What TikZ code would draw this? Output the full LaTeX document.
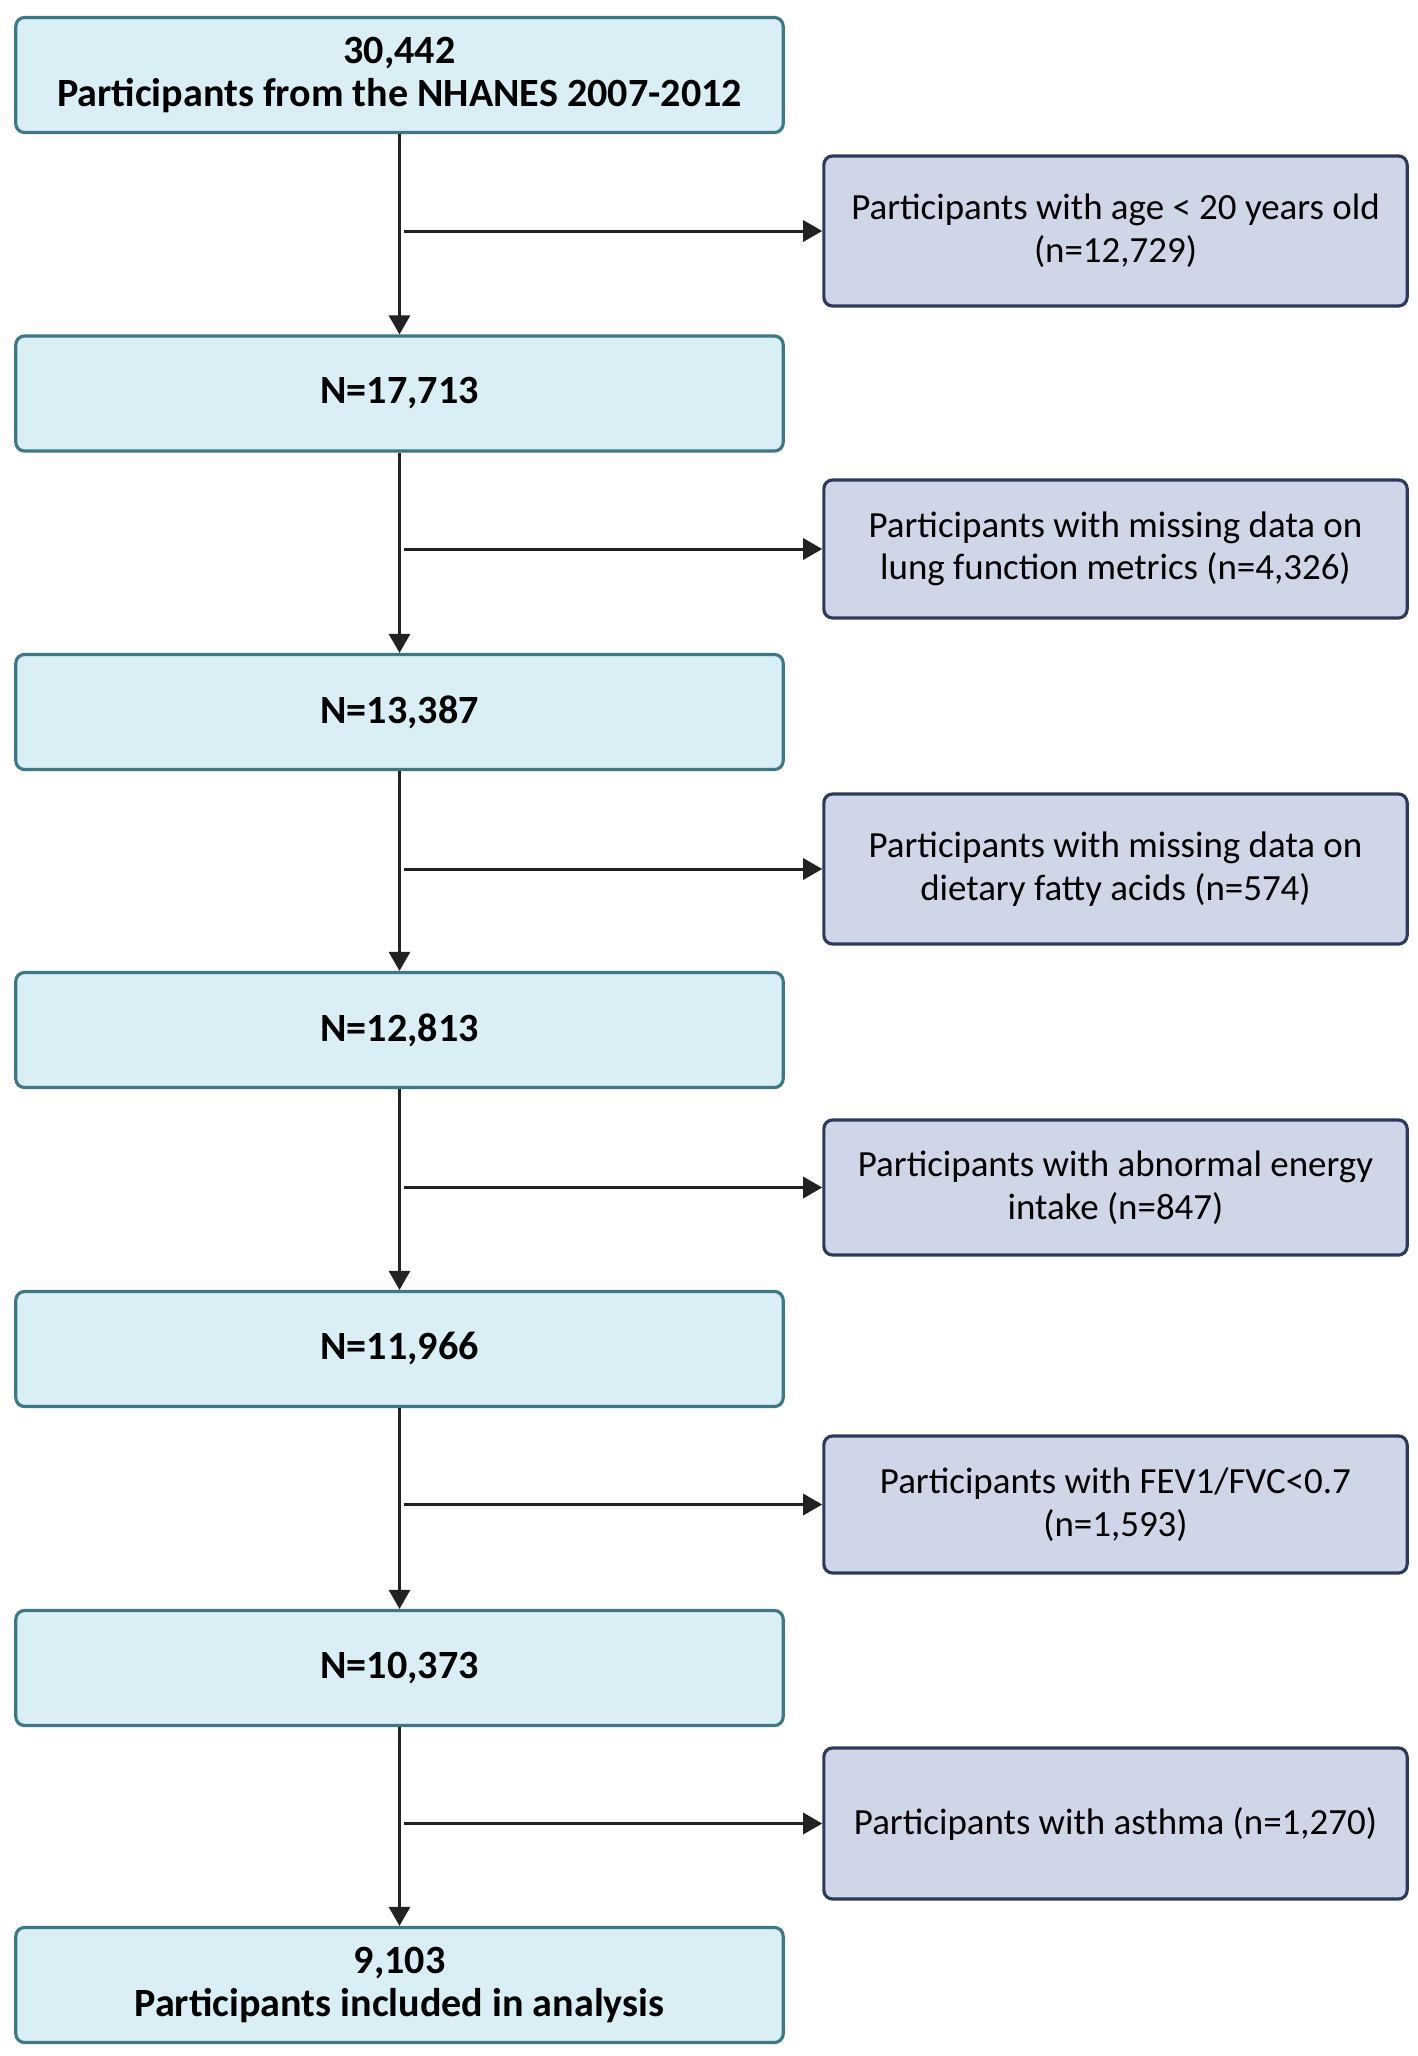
\documentclass[tikz,border=0pt]{standalone}
\usepackage{fontspec}
\setmainfont{Carlito}
\usetikzlibrary{arrows.meta}
\tikzset{>={Triangle[length=1.9mm,width=2.1mm]}}
\definecolor{stepfill}{HTML}{D9EEF5}
\definecolor{stepline}{HTML}{3E7786}
\definecolor{exfill}{HTML}{CFD6E8}
\definecolor{exline}{HTML}{2E3A5C}
\definecolor{arrcol}{HTML}{222222}
\tikzset{
  mainbox/.style={draw=stepline,fill=stepfill,line width=0.9pt,rounded corners=2.5pt,
    minimum width=7.67cm,minimum height=1.15cm,align=center,font=\fontsize{11.4}{12.1}\selectfont\bfseries},
  exbox/.style={draw=exline,fill=exfill,line width=0.9pt,rounded corners=2.5pt,
    minimum width=5.83cm,align=center,font=\fontsize{10.5}{12.1}\selectfont},
  flow/.style={->,draw=arrcol,line width=0.85pt}
}

\begin{document}
\begin{tikzpicture}[x=0.01cm,y=-0.01cm]
  \useasboundingbox (0,0) rectangle (1418,2056);

  % main steps
  \node[mainbox] (s1) at (399.5,75) {30,442\\Participants from the NHANES 2007-2012};
  \node[mainbox] (s2) at (399.5,393.5) {N=17,713};
  \node[mainbox] (s3) at (399.5,712) {N=13,387};
  \node[mainbox] (s4) at (399.5,1030) {N=12,813};
  \node[mainbox] (s5) at (399.5,1349) {N=11,966};
  \node[mainbox] (s6) at (399.5,1668) {N=10,373};
  \node[mainbox] (s7) at (399.5,1985) {9,103\\Participants included in analysis};

  % exclusions
  \node[exbox,minimum height=1.50cm] (e1) at (1115.5,231) {Participants with age < 20 years old\\(n=12,729)};
  \node[exbox,minimum height=1.38cm] (e2) at (1115.5,549) {Participants with missing data on\\lung function metrics (n=4,326)};
  \node[exbox,minimum height=1.50cm] (e3) at (1115.5,869) {Participants with missing data on\\dietary fatty acids (n=574)};
  \node[exbox,minimum height=1.35cm] (e4) at (1115.5,1187.5) {Participants with abnormal energy\\intake (n=847)};
  \node[exbox,minimum height=1.37cm] (e5) at (1115.5,1504.5) {Participants with FEV1/FVC<0.7\\(n=1,593)};
  \node[exbox,minimum height=1.51cm] (e6) at (1115.5,1823.5) {Participants with asthma (n=1,270)};

  \draw[flow] (s1) -- (s2);
  \draw[flow] (s2) -- (s3);
  \draw[flow] (s3) -- (s4);
  \draw[flow] (s4) -- (s5);
  \draw[flow] (s5) -- (s6);
  \draw[flow] (s6) -- (s7);

  \draw[flow] ([xshift=0.04cm]s1.south |- e1.west) -- (e1.west);
  \draw[flow] ([xshift=0.04cm]s2.south |- e2.west) -- (e2.west);
  \draw[flow] ([xshift=0.04cm]s3.south |- e3.west) -- (e3.west);
  \draw[flow] ([xshift=0.04cm]s4.south |- e4.west) -- (e4.west);
  \draw[flow] ([xshift=0.04cm]s5.south |- e5.west) -- (e5.west);
  \draw[flow] ([xshift=0.04cm]s6.south |- e6.west) -- (e6.west);
\end{tikzpicture}
\end{document}
